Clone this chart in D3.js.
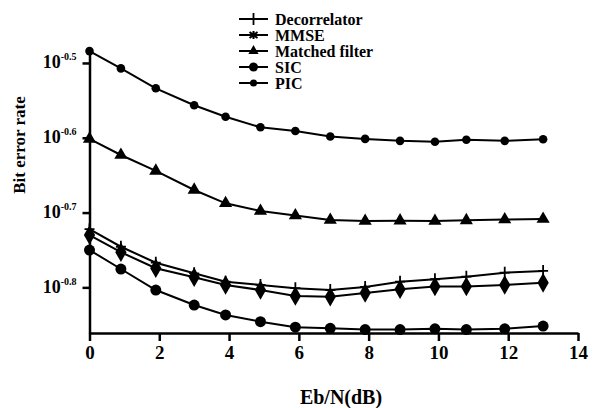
<!DOCTYPE html>
<html>
<head>
<meta charset="utf-8">
<script src="https://cdn.jsdelivr.net/npm/d3@7"></script>
<style>
  body { margin: 0; background: #fff; }
  text { font-family: "Liberation Serif", "Times New Roman", serif; font-weight: bold; fill: #000; }
</style>
</head>
<body>
<svg id="chart" width="597" height="408"></svg>
<script>
// Eb/N (dB) sample points
var snr = [0, 0.9, 1.9, 3, 3.9, 4.9, 5.9, 6.9, 7.9, 8.9, 9.9, 10.8, 11.9, 13];

// bit error rates per detector
var decorrelator = [0.1896, 0.1796, 0.1710, 0.1655, 0.1613, 0.1597, 0.1581, 0.1572, 0.1587, 0.1613, 0.1625, 0.1638, 0.1658, 0.1667];
var mmse = [0.1862, 0.1766, 0.1681, 0.1635, 0.1597, 0.1572, 0.1543, 0.1540, 0.1558, 0.1576, 0.1589, 0.1589, 0.1597, 0.1607];
var matched = [0.2503, 0.2382, 0.2268, 0.2139, 0.2053, 0.2005, 0.1977, 0.1950, 0.1944, 0.1946, 0.1944, 0.1948, 0.1953, 0.1956];
var sic = [0.1778, 0.1677, 0.1572, 0.1501, 0.1456, 0.1426, 0.1402, 0.1397, 0.1392, 0.1392, 0.1395, 0.1392, 0.1395, 0.1407];
var pic = [0.328, 0.311, 0.2925, 0.2776, 0.268, 0.2594, 0.2565, 0.2522, 0.2503, 0.2488, 0.2481, 0.2496, 0.2488, 0.2500];

var xTicks = [0, 2, 4, 6, 8, 10, 12, 14];
var yTickExps = ["-0.5", "-0.6", "-0.7", "-0.8"];
var legendNames = ["Decorrelator", "MMSE", "Matched filter", "SIC", "PIC"];

var margin = { top: 48, bottom: 75, left: 89.5, right: 19 };
var W = 597, H = 408;

var svg = d3.select("#chart");

var x = d3.scaleLinear().domain([0, 14]).range([margin.left, W - margin.right]);
var y = d3.scaleLog().domain([Math.pow(10, -0.861), Math.pow(10, -0.48)]).range([H - margin.bottom, margin.top]);

// x-axis
var xAxis = d3.axisBottom(x).tickValues(xTicks).tickSize(8).tickSizeOuter(0).tickPadding(5);
var gx = svg.append("g")
  .attr("transform", "translate(0," + (H - margin.bottom) + ")")
  .call(xAxis);
gx.select(".domain").attr("stroke-width", 2.5);
gx.selectAll(".tick line").attr("stroke-width", 2.5);
gx.selectAll(".tick text").style("font-size", "19px");

// y-axis, labels as 10 with a raised exponent
var yAxis = d3.axisLeft(y)
  .tickValues(yTickExps.map(function(e) { return Math.pow(10, +e); }))
  .tickSize(7).tickSizeOuter(0).tickFormat("");
var gy = svg.append("g")
  .attr("transform", "translate(" + margin.left + ",0)")
  .call(yAxis);
gy.select(".domain").attr("stroke-width", 2.5);
gy.selectAll(".tick line").attr("stroke-width", 2.5);
gy.selectAll(".tick").each(function(d, i) {
  var t = d3.select(this).append("text")
    .attr("x", -13).attr("y", 5)
    .attr("text-anchor", "end")
    .style("font-size", "18px");
  t.append("tspan").text("10");
  t.append("tspan").attr("dy", -8).style("font-size", "10px").text(yTickExps[i]);
});

// axis titles
svg.append("text")
  .attr("x", 341).attr("y", 404)
  .attr("text-anchor", "middle")
  .style("font-size", "20px")
  .text("Eb/N(dB)");
svg.append("text")
  .attr("transform", "translate(25,145) rotate(-90)")
  .attr("text-anchor", "middle")
  .style("font-size", "17px")
  .text("Bit error rate");

var series = [
  { values: decorrelator, marker: "plus" },
  { values: mmse, marker: "diamond" },
  { values: matched, marker: "triangle" },
  { values: sic, marker: "bigcircle" },
  { values: pic, marker: "circle" }
];

function drawMarker(g, type, legend) {
  if (type === "plus") {
    g.append("path").attr("d", "M-5,0H5M0,-6V6").attr("stroke", "#000").attr("stroke-width", 1.8).attr("fill", "none");
  } else if (type === "cross") {
    g.append("path").attr("d", "M-4,-3L4,3M-4,3L4,-3M0,-4V4").attr("stroke", "#000").attr("stroke-width", 2).attr("fill", "none");
  } else if (type === "diamond") {
    g.append("path").attr("d", d3.symbol(d3.symbolDiamond, 110)()).attr("fill", "#000");
  } else if (type === "triangle") {
    g.append("path").attr("d", d3.symbol(d3.symbolTriangle, legend ? 45 : 75)()).attr("fill", "#000");
  } else if (type === "bigcircle") {
    g.append("circle").attr("r", legend ? 4.5 : 5.5).attr("fill", "#000");
  } else {
    g.append("circle").attr("r", legend ? 3.5 : 4.3).attr("fill", "#000");
  }
}

var line = d3.line()
  .x(function(d, i) { return x(snr[i]); })
  .y(function(d) { return y(d); });

series.forEach(function(s) {
  svg.append("path")
    .datum(s.values)
    .attr("d", line)
    .attr("fill", "none")
    .attr("stroke", "#000")
    .attr("stroke-width", 2);
  s.values.forEach(function(v, i) {
    var g = svg.append("g").attr("transform", "translate(" + x(snr[i]) + "," + y(v) + ")");
    drawMarker(g, s.marker, false);
  });
});

// legend
var legendMarkers = ["plus", "cross", "triangle", "bigcircle", "circle"];
var legend = svg.append("g").attr("transform", "translate(239,19)");
legendNames.forEach(function(name, i) {
  var row = legend.append("g").attr("transform", "translate(0," + (i * 16) + ")");
  row.append("line").attr("x1", 0).attr("x2", 29).attr("stroke", "#000").attr("stroke-width", 2);
  drawMarker(row.append("g").attr("transform", "translate(14.5,0)"), legendMarkers[i], true);
  row.append("text").attr("x", 36).attr("y", 5.5).style("font-size", "16px").text(name);
});
</script>
</body>
</html>
